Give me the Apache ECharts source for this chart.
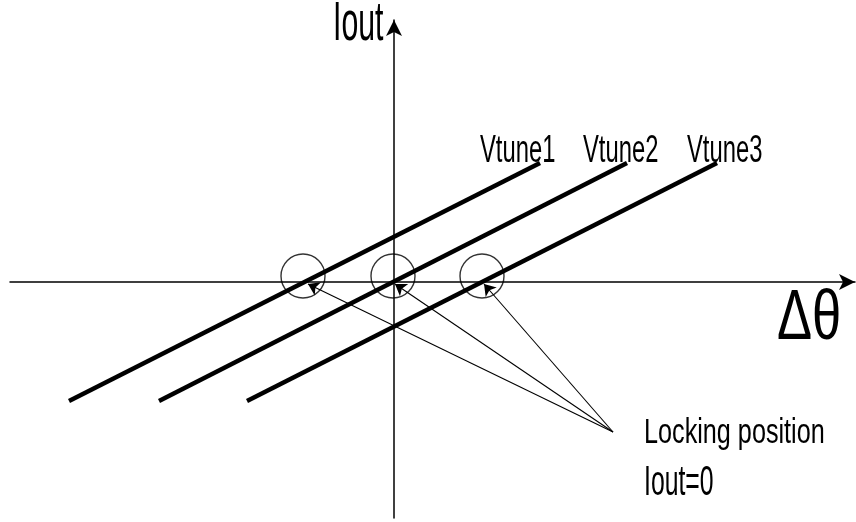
<!DOCTYPE html>
<html>
<head>
<meta charset="utf-8">
<script src="https://cdn.jsdelivr.net/npm/echarts@6/dist/echarts.min.js"></script>
<style>
  html, body { margin: 0; padding: 0; background: #fff; }
  #chart { width: 856px; height: 522px; }
</style>
</head>
<body>
<div id="chart"></div>
<script>
// Phase-detector transfer lines: Iout versus phase error for three tuning voltages
const curveNames = ['Vtune1', 'Vtune2', 'Vtune3'];
const vtune1 = [[-32.5, -11.9], [14.6, 11.9]];
const vtune2 = [[-23.5, -11.9], [23.3, 11.9]];
const vtune3 = [[-14.7, -11.9], [32.3, 11.9]];

// Locking positions (where each line crosses Iout = 0) and the pointer lines to them
const lockCircles = [[-9.1, 0.6], [-0.1, 0.6], [8.8, 0.6]];
const pointerTips = [[-8.6, -0.2], [0.1, -0.2], [9.0, -0.2]];
const pointerFrom = [21.9, -15.0];

// Texts
const xAxisName = 'Δθ';
const yAxisName = 'Iout';
const noteLines = ['Locking position', 'Iout=0'];

const X_MIN = -38.4, X_MAX = 46.1, Y_MIN = -23.6, Y_MAX = 26.4;
const FONT = '"Liberation Sans", Arial, sans-serif';

const chart = echarts.init(document.getElementById('chart'), null, { renderer: 'canvas' });

const axisLine = {
  show: true,
  onZero: true,
  symbol: ['none', 'arrow'],
  symbolSize: [12, 16],
  lineStyle: { color: '#000', width: 1.5 }
};

const option = {
  backgroundColor: '#fff',
  animation: false,
  grid: { left: 10, right: 1, top: 20, bottom: 4, containLabel: false, outerBoundsMode: 'none' },
  xAxis: {
    type: 'value', min: X_MIN, max: X_MAX,
    axisLine: axisLine,
    axisTick: { show: false }, axisLabel: { show: false }, splitLine: { show: false }
  },
  yAxis: {
    type: 'value', min: Y_MIN, max: 26.2,
    axisLine: axisLine,
    axisTick: { show: false }, axisLabel: { show: false }, splitLine: { show: false }
  },
  series: [
    ...[vtune1, vtune2, vtune3].map((d, i) => ({
      name: curveNames[i],
      type: 'line',
      data: d,
      symbol: 'none',
      silent: true,
      lineStyle: { color: '#000', width: 4.5, cap: 'butt' },
      z: 3
    })),
    {
      type: 'scatter',
      data: lockCircles,
      symbol: 'circle',
      symbolSize: 44,
      silent: true,
      itemStyle: { color: 'rgba(0,0,0,0)', borderColor: '#000', borderWidth: 1.4 },
      z: 4
    },
    {
      type: 'lines',
      coordinateSystem: 'cartesian2d',
      data: pointerTips.map(t => ({ coords: [pointerFrom, t] })),
      symbol: ['none', 'arrow'],
      symbolSize: [0, 11],
      silent: true,
      lineStyle: { color: '#000', width: 1.1, opacity: 1, curveness: 0 },
      z: 5
    }
  ]
};

chart.setOption(option);

// Text placed in pixel space; each entry: text, left x, vertical cap centre, font size, horizontal scale
function label(text, x, y, size, sx) {
  return {
    type: 'text',
    x: x, y: y, scaleX: sx, scaleY: 1,
    silent: true,
    style: {
      text: text, x: 0, y: 0,
      font: size + 'px ' + FONT,
      fill: '#000',
      textAlign: 'left',
      textVerticalAlign: 'middle'
    },
    z: 10
  };
}

const origin = chart.convertToPixel({ gridIndex: 0 }, [0, 0]);
const from = chart.convertToPixel({ gridIndex: 0 }, pointerFrom);

const texts = [
  label(yAxisName, origin[0] - 61, origin[1] - 257, 56, 0.54),
  label(xAxisName, origin[0] + 383, origin[1] + 38, 70, 0.75),
  label(curveNames[0], 480, 151, 39, 0.61),
  label(curveNames[1], 583, 151, 39, 0.61),
  label(curveNames[2], 687, 151, 39, 0.61),
  label(noteLines[0], from[0] + 31, from[1] + 1, 35, 0.72),
  label(noteLines[1], from[0] + 31, from[1] + 51, 42, 0.59)
];

chart.setOption({ graphic: { elements: texts } });
</script>
</body>
</html>
